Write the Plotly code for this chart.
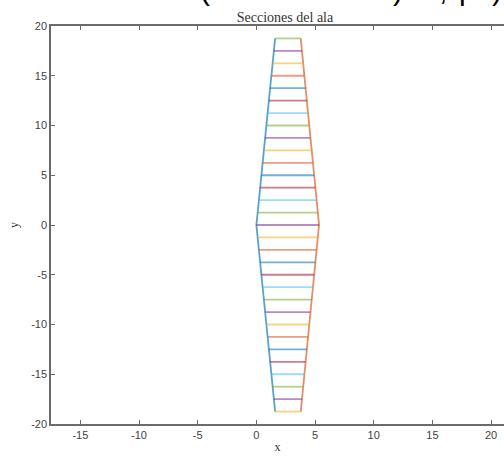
import plotly.graph_objects as go

# Spanwise stations (half span) and leading/trailing edge x at each station
y_half = [0.0, 1.25, 2.5, 3.75, 5.0, 6.25, 7.5, 8.75, 10.0, 11.25, 12.5,
          13.75, 15.0, 16.25, 17.5, 18.75]
x_le_half = [0.00, 0.11, 0.21, 0.32, 0.43, 0.53, 0.64, 0.75, 0.85, 0.96,
             1.07, 1.17, 1.28, 1.39, 1.49, 1.60]
x_te_half = [5.34, 5.24, 5.13, 5.03, 4.92, 4.82, 4.72, 4.61, 4.51, 4.40,
             4.30, 4.20, 4.09, 3.99, 3.88, 3.78]

x_ticks = [-15, -10, -5, 0, 5, 10, 15, 20]
x_tick_labels = ["-15", "-10", "-5", "0", "5", "10", "15", "20"]
y_ticks = [-20, -15, -10, -5, 0, 5, 10, 15, 20]
y_tick_labels = ["-20", "-15", "-10", "-5", "0", "5", "10", "15", "20"]

matlab_colors = ["rgb(0,114,189)", "rgb(217,83,25)", "rgb(237,177,32)",
                 "rgb(126,47,142)", "rgb(119,172,48)", "rgb(77,190,238)",
                 "rgb(162,20,47)"]

# full span (tip to tip)
ys = [-v for v in y_half[::-1]] + y_half[1:]
x_le = x_le_half[::-1] + x_le_half[1:]
x_te = x_te_half[::-1] + x_te_half[1:]

fig = go.Figure()
fig.add_trace(go.Scatter(x=x_le, y=ys, mode="lines",
                         line=dict(color=matlab_colors[0], width=1.8),
                         opacity=0.65, showlegend=False))
fig.add_trace(go.Scatter(x=x_te, y=ys, mode="lines",
                         line=dict(color=matlab_colors[1], width=1.8),
                         opacity=0.65, showlegend=False))
for k, (yy, a, b) in enumerate(zip(ys, x_le, x_te)):
    fig.add_trace(go.Scatter(x=[a, b], y=[yy, yy], mode="lines",
                             line=dict(color=matlab_colors[(k + 2) % 7], width=1.8),
                             opacity=0.55, showlegend=False))

axis_col = "#6b6b6b"
tickfont = dict(family="Liberation Sans", size=11, color="#3f3f3f")

fig.update_layout(
    width=504, height=457,
    margin=dict(l=51, r=0, t=26, b=33),
    paper_bgcolor="white", plot_bgcolor="white",
    title=dict(text="Secciones del ala", x=(285 - 51) / 453, xref="paper",
               xanchor="center", y=1 - 17 / 457, yanchor="middle",
               font=dict(family="Liberation Serif", size=14, color="#333333")),
    xaxis=dict(range=[-17.5, 21.1], tickvals=x_ticks, ticktext=x_tick_labels,
               ticks="inside", ticklen=4,
               tickcolor=axis_col, showline=True, linecolor=axis_col, linewidth=1.5,
               mirror="ticks", showgrid=False, zeroline=False, tickfont=tickfont,
               title=dict(text="x", standoff=3,
                          font=dict(family="Liberation Serif", size=12, color="#333333"))),
    yaxis=dict(range=[-20, 20], tickvals=y_ticks, ticktext=y_tick_labels,
               ticks="inside", ticklen=4,
               tickcolor=axis_col, showline=True, linecolor=axis_col, linewidth=1.5,
               mirror=False, showgrid=False, zeroline=False, tickfont=tickfont,
               title=dict(text="y", standoff=10,
                          font=dict(family="Liberation Serif", size=12, color="#333333"))),
)

# cropped bold heading at the very top of the picture (only descenders visible)
for ch, px in [("(", 205), (")", 398), (",", 443), ("p", 467), (")", 497)]:
    fig.add_annotation(text=ch, xref="paper", yref="paper",
                       x=(px - 51) / 453, y=1, xanchor="center", yanchor="bottom",
                       yshift=18, showarrow=False,
                       font=dict(family="Liberation Sans", size=30, color="black"))

fig.write_html("out.html", config={"displayModeBar": False},
               post_script="document.body.style.margin='0';")
